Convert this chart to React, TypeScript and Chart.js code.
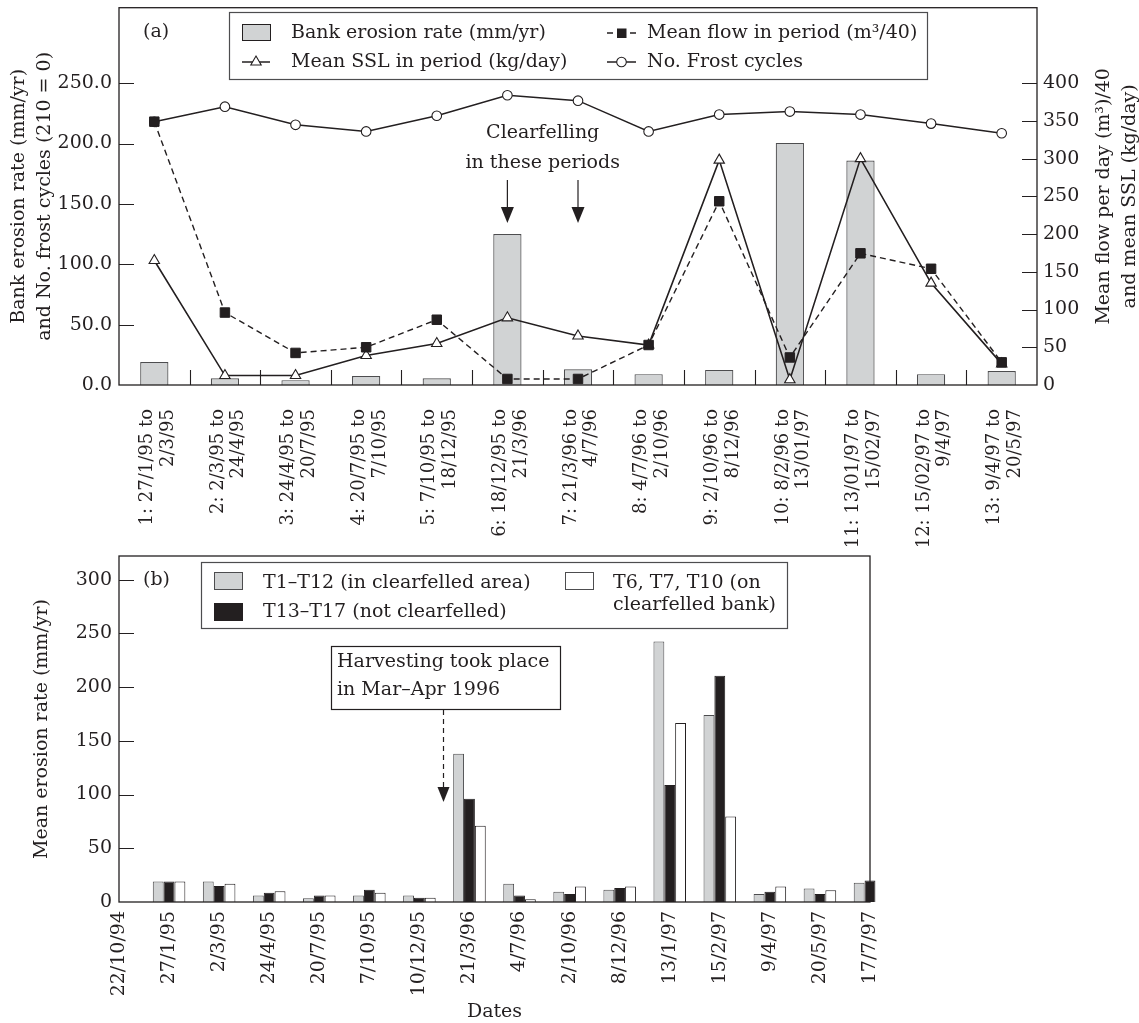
import React, { useEffect, useRef } from 'react';
import { Chart, registerables } from 'chart.js';

Chart.register(...registerables);

const FONT = "'DejaVu Serif', serif";
const INK = '#231f20';
const GRAY = '#d1d3d4';

// ---------- Panel (a) data ----------
const periodLabels: string[][] = [
  ['1: 27/1/95 to', '2/3/95'],
  ['2: 2/3/95 to', '24/4/95'],
  ['3: 24/4/95 to', '20/7/95'],
  ['4: 20/7/95 to', '7/10/95'],
  ['5: 7/10/95 to', '18/12/95'],
  ['6: 18/12/95 to', '21/3/96'],
  ['7: 21/3/96 to', '4/7/96'],
  ['8: 4/7/96 to', '2/10/96'],
  ['9: 2/10/96 to', '8/12/96'],
  ['10: 8/2/96 to', '13/01/97'],
  ['11: 13/01/97 to', '15/02/97'],
  ['12: 15/02/97 to', '9/4/97'],
  ['13: 9/4/97 to', '20/5/97'],
];
const bankErosionRate = [19, 5.5, 4, 7.5, 5.5, 125, 13, 9, 12.5, 200.5, 186, 9, 11.5];
const frostCycles = [218, 230.5, 215.5, 210, 223, 240, 235.5, 210, 224, 226.5, 224, 216.5, 208.5];
const meanSSL = [165, 12.5, 12.5, 39, 55, 89, 65, 53, 298, 7, 300, 135, 28];
const meanFlow = [349, 96, 42.5, 50, 86.5, 8, 8, 53, 243.5, 36.5, 174.5, 154, 30];
const leftTicksA = [0, 50, 100, 150, 200, 250];
const rightTicksA = [0, 50, 100, 150, 200, 250, 300, 350, 400];

// ---------- Panel (b) data ----------
const dateLabels = ['22/10/94', '27/1/95', '2/3/95', '24/4/95', '20/7/95', '7/10/95', '10/12/95', '21/3/96',
  '4/7/96', '2/10/96', '8/12/96', '13/1/97', '15/2/97', '9/4/97', '20/5/97', '17/7/97'];
const t1t12 = [null, 19, 19, 6, 3.5, 6, 6, 138, 17, 9.5, 11.5, 242.5, 174, 7.5, 12.5, 18];
const t13t17 = [null, 19, 15, 8.5, 6, 11.5, 4, 96, 6, 7.5, 13, 109, 210.5, 9.5, 7.5, 20];
const t6t7t10 = [null, 19, 17, 10, 6, 8.5, 4, 71, 2.5, 14.5, 14.5, 166.5, 79.5, 14.5, 11, null];
const ticksB = [0, 50, 100, 150, 200, 250, 300];

const tickFont = { family: FONT, size: 19 };

function vText(ctx: CanvasRenderingContext2D, text: string, x: number, y: number) {
  ctx.save();
  ctx.translate(x, y);
  ctx.rotate(-Math.PI / 2);
  ctx.textAlign = 'center';
  ctx.textBaseline = 'middle';
  ctx.fillText(text, 0, 0);
  ctx.restore();
}

function triangle(ctx: CanvasRenderingContext2D, x: number, y: number, r: number) {
  ctx.beginPath();
  for (let k = 0; k < 3; k++) {
    const a = (k * 2 * Math.PI) / 3;
    const px = x + Math.sin(a) * r;
    const py = y - Math.cos(a) * r;
    if (k === 0) ctx.moveTo(px, py); else ctx.lineTo(px, py);
  }
  ctx.closePath();
  ctx.fillStyle = '#fff';
  ctx.fill();
  ctx.stroke();
}

function arrowHead(ctx: CanvasRenderingContext2D, x: number, tipY: number, w: number, h: number) {
  ctx.beginPath();
  ctx.moveTo(x - w / 2, tipY - h);
  ctx.lineTo(x + w / 2, tipY - h);
  ctx.lineTo(x, tipY);
  ctx.closePath();
  ctx.fillStyle = INK;
  ctx.fill();
}

const decorA = {
  id: 'decorA',
  afterDraw(chart: any) {
    const { ctx, chartArea: ca, scales } = chart;
    const xs = scales.x, ys = scales.y, ys2 = scales.y2;
    ctx.save();
    ctx.strokeStyle = INK;
    ctx.lineWidth = 1.3;
    ctx.strokeRect(ca.left, ca.top, ca.right - ca.left, ca.bottom - ca.top);
    ctx.beginPath();
    ctx.lineWidth = 1.1;
    for (const v of leftTicksA) {
      if (v === 0) continue;
      const py = Math.round(ys.getPixelForValue(v)) + 0.5;
      ctx.moveTo(ca.left, py); ctx.lineTo(ca.left + 15, py);
    }
    for (const v of rightTicksA) {
      if (v === 0) continue;
      const py = Math.round(ys2.getPixelForValue(v)) + 0.5;
      ctx.moveTo(ca.right, py); ctx.lineTo(ca.right - 15, py);
    }
    for (let i = 0; i < periodLabels.length - 1; i++) {
      const px = Math.round((xs.getPixelForTick(i) + xs.getPixelForTick(i + 1)) / 2) + 0.5;
      ctx.moveTo(px, ca.bottom); ctx.lineTo(px, ca.bottom - 15);
    }
    ctx.stroke();

    ctx.fillStyle = INK;
    ctx.font = `19px ${FONT}`;
    const cy = (ca.top + ca.bottom) / 2;
    vText(ctx, 'Bank erosion rate (mm/yr)', 19, cy);
    vText(ctx, 'and No. frost cycles (210 = 0)', 45, cy);
    vText(ctx, 'Mean flow per day (m\u00B3)/40', 1104, cy);
    vText(ctx, 'and mean SSL (kg/day)', 1130, cy);

    ctx.textAlign = 'left';
    ctx.textBaseline = 'middle';
    ctx.fillText('(a)', 143, 32);

    // legend
    ctx.strokeStyle = '#4d4d4f';
    ctx.lineWidth = 1.2;
    ctx.strokeRect(229.5, 12.5, 698, 67);
    ctx.fillStyle = GRAY;
    ctx.fillRect(242.5, 24.5, 28, 16);
    ctx.strokeStyle = INK;
    ctx.lineWidth = 1;
    ctx.strokeRect(242.5, 24.5, 28, 16);
    ctx.lineWidth = 1.5;
    ctx.beginPath(); ctx.moveTo(242, 62); ctx.lineTo(270, 62); ctx.stroke();
    ctx.lineWidth = 1.1;
    triangle(ctx, 256, 62, 6);
    ctx.lineWidth = 1.5;
    ctx.beginPath();
    ctx.moveTo(607, 33); ctx.lineTo(613, 33);
    ctx.moveTo(630, 33); ctx.lineTo(636, 33);
    ctx.moveTo(607, 62); ctx.lineTo(636, 62);
    ctx.stroke();
    ctx.fillStyle = INK;
    ctx.fillRect(617, 28.5, 9.5, 9.5);
    ctx.beginPath(); ctx.arc(621.5, 62, 4.8, 0, Math.PI * 2);
    ctx.fillStyle = '#fff'; ctx.fill(); ctx.lineWidth = 1.1; ctx.stroke();

    ctx.fillStyle = INK;
    ctx.textAlign = 'left';
    ctx.fillText('Bank erosion rate (mm/yr)', 291, 33);
    ctx.fillText('Mean SSL in period (kg/day)', 291, 62);
    ctx.fillText('Mean flow in period (m\u00B3/40)', 647, 33);
    ctx.fillText('No. Frost cycles', 647, 62);

    // clearfelling annotation
    const x6 = xs.getPixelForValue(5);
    const x7 = xs.getPixelForValue(6);
    ctx.textAlign = 'center';
    ctx.fillText('Clearfelling', (x6 + x7) / 2, 133);
    ctx.fillText('in these periods', (x6 + x7) / 2, 163);
    ctx.strokeStyle = INK;
    ctx.lineWidth = 1.2;
    for (const ax of [x6, x7]) {
      ctx.beginPath(); ctx.moveTo(ax, 180); ctx.lineTo(ax, 210); ctx.stroke();
      arrowHead(ctx, ax, 223, 13, 16);
    }
    ctx.restore();
  },
};

const decorB = {
  id: 'decorB',
  afterDraw(chart: any) {
    const { ctx, chartArea: ca, scales } = chart;
    const xs = scales.x, ys = scales.y;
    ctx.save();
    ctx.strokeStyle = INK;
    ctx.lineWidth = 1.3;
    ctx.strokeRect(ca.left, ca.top, ca.right - ca.left, ca.bottom - ca.top);
    ctx.beginPath();
    ctx.lineWidth = 1.1;
    for (const v of ticksB) {
      if (v === 0) continue;
      const py = Math.round(ys.getPixelForValue(v)) + 0.5;
      ctx.moveTo(ca.left, py); ctx.lineTo(ca.left + 15, py);
    }
    ctx.stroke();

    ctx.fillStyle = INK;
    ctx.font = `19px ${FONT}`;
    vText(ctx, 'Mean erosion rate (mm/yr)', 42, (ca.top + ca.bottom) / 2);
    ctx.textAlign = 'center';
    ctx.textBaseline = 'middle';
    ctx.fillText('Dates', (ca.left + ca.right) / 2, 472);

    ctx.textAlign = 'left';
    ctx.fillText('(b)', 143, 40);

    // legend
    ctx.strokeStyle = '#4d4d4f';
    ctx.lineWidth = 1.2;
    ctx.fillStyle = '#fff';
    ctx.fillRect(201.5, 22.5, 586, 66);
    ctx.strokeRect(201.5, 22.5, 586, 66);
    ctx.lineWidth = 1;
    ctx.fillStyle = GRAY; ctx.fillRect(214.5, 32.5, 28, 17);
    ctx.strokeStyle = '#4d4d4f'; ctx.strokeRect(214.5, 32.5, 28, 17);
    ctx.fillStyle = INK; ctx.fillRect(214, 63, 29, 18);
    ctx.fillStyle = '#fff'; ctx.fillRect(565.5, 32.5, 28, 17);
    ctx.strokeRect(565.5, 32.5, 28, 17);
    ctx.fillStyle = INK;
    ctx.fillText('T1\u2013T12 (in clearfelled area)', 263, 43);
    ctx.fillText('T13\u2013T17 (not clearfelled)', 263, 72);
    ctx.fillText('T6, T7, T10 (on', 613, 43);
    ctx.fillText('clearfelled bank)', 613, 65);

    // harvesting annotation
    ctx.strokeStyle = INK;
    ctx.lineWidth = 1.2;
    ctx.fillStyle = '#fff';
    ctx.fillRect(331.5, 106.5, 229, 63);
    ctx.strokeRect(331.5, 106.5, 229, 63);
    ctx.fillStyle = INK;
    ctx.fillText('Harvesting took place', 337, 122);
    ctx.fillText('in Mar\u2013Apr 1996', 337, 150);
    const ax = Math.round(xs.getPixelForValue(6.47)) + 0.5;
    ctx.setLineDash([5, 4]);
    ctx.beginPath(); ctx.moveTo(ax, 170); ctx.lineTo(ax, 247); ctx.stroke();
    ctx.setLineDash([]);
    arrowHead(ctx, ax, 262, 12, 15);
    ctx.restore();
  },
};

export default function App() {
  const refA = useRef<HTMLCanvasElement>(null);
  const refB = useRef<HTMLCanvasElement>(null);

  useEffect(() => {
    Chart.defaults.font.family = FONT;
    const chartA = new Chart(refA.current as HTMLCanvasElement, {
      type: 'bar',
      data: {
        labels: periodLabels,
        datasets: [
          {
            type: 'line', label: 'Mean flow in period (m3/40)', data: meanFlow, yAxisID: 'y2',
            borderColor: INK, borderWidth: 1.4, borderDash: [6, 4], tension: 0, fill: false,
            pointStyle: 'rect', pointRadius: 6.7, pointBackgroundColor: INK, pointBorderColor: INK, pointBorderWidth: 1,
            order: 1,
          } as any,
          {
            type: 'line', label: 'Mean SSL in period (kg/day)', data: meanSSL, yAxisID: 'y2',
            borderColor: INK, borderWidth: 1.6, tension: 0, fill: false,
            pointStyle: 'triangle', pointRadius: 6, pointBackgroundColor: '#fff', pointBorderColor: INK, pointBorderWidth: 1.1,
            order: 2,
          } as any,
          {
            type: 'line', label: 'No. Frost cycles', data: frostCycles, yAxisID: 'y',
            borderColor: INK, borderWidth: 1.5, tension: 0, fill: false,
            pointStyle: 'circle', pointRadius: 4.8, pointBackgroundColor: '#fff', pointBorderColor: INK, pointBorderWidth: 1.1,
            order: 3,
          } as any,
          {
            type: 'bar', label: 'Bank erosion rate (mm/yr)', data: bankErosionRate, yAxisID: 'y',
            backgroundColor: GRAY, borderColor: '#4d4d4f', borderWidth: 1.2,
            categoryPercentage: 0.4, barPercentage: 1, order: 4,
          } as any,
        ],
      },
      options: {
        responsive: false,
        animation: false,
        events: [],
        layout: { padding: { top: 7, left: 0, right: 0, bottom: 0 } },
        plugins: { legend: { display: false }, tooltip: { enabled: false } },
        scales: {
          x: {
            type: 'category', offset: true,
            grid: { display: false, drawTicks: false }, border: { display: false },
            ticks: {
              autoSkip: false, minRotation: 90, maxRotation: 90, padding: 24, labelOffset: -7,
              color: INK, font: { family: FONT, size: 18, lineHeight: 1.15 },
            },
            afterFit: (s: any) => { s.height = 175; s.paddingLeft = 0; s.paddingRight = 0; },
          },
          y: {
            position: 'left', min: 0, max: 312.5,
            grid: { display: false, drawTicks: false }, border: { display: false },
            ticks: { stepSize: 50, padding: 7, color: INK, font: tickFont, callback: (v: any) => Number(v).toFixed(1) },
            afterBuildTicks: (s: any) => { s.ticks = leftTicksA.map((v) => ({ value: v })); },
            afterFit: (s: any) => { s.width = 119; s.paddingTop = 0; s.paddingBottom = 0; },
          },
          y2: {
            position: 'right', min: 0, max: 500,
            grid: { display: false, drawTicks: false }, border: { display: false },
            ticks: { stepSize: 50, padding: 6, color: INK, font: tickFont, callback: (v: any) => String(v) },
            afterBuildTicks: (s: any) => { s.ticks = rightTicksA.map((v) => ({ value: v })); },
            afterFit: (s: any) => { s.width = 102; s.paddingTop = 0; s.paddingBottom = 0; },
          },
        },
      } as any,
      plugins: [decorA],
    });

    const chartB = new Chart(refB.current as HTMLCanvasElement, {
      type: 'bar',
      data: {
        labels: dateLabels,
        datasets: [
          { label: 'T1\u2013T12 (in clearfelled area)', data: t1t12, backgroundColor: GRAY, borderColor: '#4d4d4f', borderWidth: 1, categoryPercentage: 0.65, barPercentage: 1, clip: false } as any,
          { label: 'T13\u2013T17 (not clearfelled)', data: t13t17, backgroundColor: INK, borderColor: INK, borderWidth: 1, categoryPercentage: 0.65, barPercentage: 1, clip: false } as any,
          { label: 'T6, T7, T10 (on clearfelled bank)', data: t6t7t10, backgroundColor: '#fff', borderColor: INK, borderWidth: 1, categoryPercentage: 0.65, barPercentage: 1, clip: false } as any,
        ],
      },
      options: {
        responsive: false,
        animation: false,
        events: [],
        layout: { padding: { top: 16, left: 0, right: 269, bottom: 0 } },
        plugins: { legend: { display: false }, tooltip: { enabled: false } },
        scales: {
          x: {
            type: 'category', offset: false,
            grid: { display: false, drawTicks: false, offset: false }, border: { display: false },
            ticks: { autoSkip: false, minRotation: 90, maxRotation: 90, padding: 9, color: INK, font: tickFont },
            afterFit: (s: any) => { s.height = 121; s.paddingLeft = 0; s.paddingRight = 0; },
          },
          y: {
            position: 'left', min: 0, max: 322,
            grid: { display: false, drawTicks: false }, border: { display: false },
            ticks: { stepSize: 50, padding: 7, color: INK, font: tickFont, callback: (v: any) => String(v) },
            afterBuildTicks: (s: any) => { s.ticks = ticksB.map((v) => ({ value: v })); },
            afterFit: (s: any) => { s.width = 119; s.paddingTop = 0; s.paddingBottom = 0; },
          },
        },
      } as any,
      plugins: [decorB],
    });

    return () => { chartA.destroy(); chartB.destroy(); };
  }, []);

  return (
    <div style={{ position: 'absolute', left: 0, top: 0, width: 1139, height: 1023, background: '#fff' }}>
      <canvas ref={refA} width={1139} height={560} style={{ position: 'absolute', left: 0, top: 0, width: 1139, height: 560 }} />
      <canvas ref={refB} width={1139} height={483} style={{ position: 'absolute', left: 0, top: 540, width: 1139, height: 483 }} />
    </div>
  );
}
